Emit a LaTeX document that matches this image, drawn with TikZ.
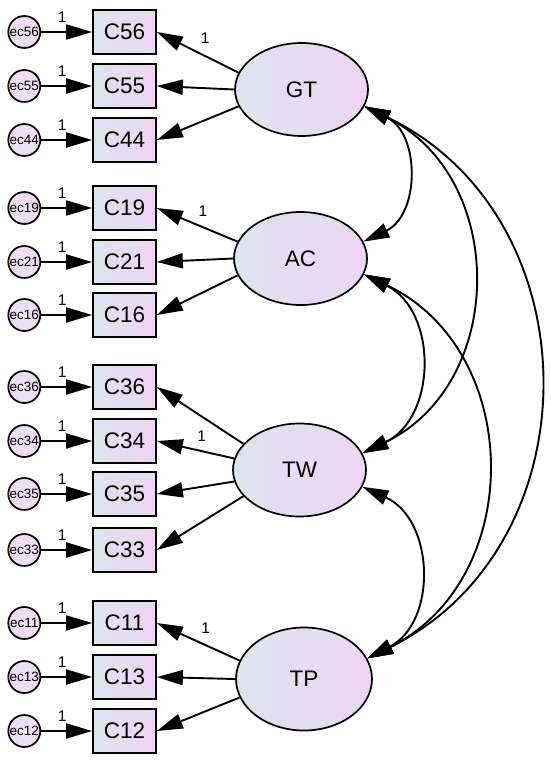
\documentclass[tikz,border=0pt]{standalone}
\usepackage{fontspec}
\setmainfont{Liberation Sans}
\usetikzlibrary{positioning,arrows.meta,shapes.geometric}

\definecolor{shadeL}{RGB}{222,228,238}
\definecolor{shadeR}{RGB}{237,213,244}
\definecolor{errfill}{RGB}{238,222,244}

\begin{document}
\begin{tikzpicture}[
    x=1pt, y=1pt,
    item/.style={
        draw,
        line width=1.7pt,
        left color=shadeL,
        right color=shadeR,
        minimum width=63pt,
        minimum height=44pt,
        inner sep=0pt,
        font=\fontsize{22.5}{26}\selectfont
    },
    latent/.style={
        ellipse,
        draw,
        line width=1.7pt,
        left color=shadeL,
        right color=shadeR,
        minimum width=133pt,
        minimum height=93pt,
        inner sep=0pt,
        font=\fontsize{22.5}{26}\selectfont
    },
    err/.style={
        circle,
        draw,
        line width=1.7pt,
        fill=errfill,
        minimum size=32pt,
        inner sep=0pt,
        font=\fontsize{13.5}{15}\selectfont
    },
    load/.style={-{Triangle[length=26pt,width=15pt]}, line width=1.9pt},
    cov/.style={{Triangle[length=26pt,width=15pt]}-{Triangle[length=26pt,width=15pt]}, line width=1.9pt, bend left=64, looseness=1.18},
    lbl/.style={inner sep=0pt, font=\fontsize{15.5}{17}\selectfont}
]
\useasboundingbox (0,0) rectangle (550,-767);

% latent factors
\node[latent] (GT) at (301.5,-89.5) {GT};
\node[latent] (AC) at (300.5,-258.5) {AC};
\node[latent] (TW) at (299.5,-470) {TW};
\node[latent, minimum width=136pt, minimum height=103pt] (TP) at (304,-679) {TP};

% observed items
\node[item] (C56) at (124.5,-32) {C56};
\node[item] (C55) at (124.5,-86) {C55};
\node[item] (C44) at (124.5,-140) {C44};
\node[item] (C19) at (124.5,-208) {C19};
\node[item] (C21) at (124.5,-262) {C21};
\node[item] (C16) at (124.5,-315) {C16};
\node[item] (C36) at (124.5,-387) {C36};
\node[item] (C34) at (124.5,-441) {C34};
\node[item] (C35) at (124.5,-494) {C35};
\node[item] (C33) at (124.5,-550) {C33};
\node[item] (C11) at (124.5,-623) {C11};
\node[item] (C13) at (124.5,-677) {C13};
\node[item] (C12) at (124.5,-731) {C12};

% error terms
\node[err, left=51pt of C56] (ec56) {ec56};
\node[err, left=51pt of C55] (ec55) {ec55};
\node[err, left=51pt of C44] (ec44) {ec44};
\node[err, left=51pt of C19] (ec19) {ec19};
\node[err, left=51pt of C21] (ec21) {ec21};
\node[err, left=51pt of C16] (ec16) {ec16};
\node[err, left=51pt of C36] (ec36) {ec36};
\node[err, left=51pt of C34] (ec34) {ec34};
\node[err, left=51pt of C35] (ec35) {ec35};
\node[err, left=51pt of C33] (ec33) {ec33};
\node[err, left=51pt of C11] (ec11) {ec11};
\node[err, left=51pt of C13] (ec13) {ec13};
\node[err, left=51pt of C12] (ec12) {ec12};

% error paths
\draw[load] (ec56) -- node[lbl, pos=0.41, above=9pt] {1} (C56);
\draw[load] (ec55) -- node[lbl, pos=0.41, above=9pt] {1} (C55);
\draw[load] (ec44) -- node[lbl, pos=0.41, above=9pt] {1} (C44);
\draw[load] (ec19) -- node[lbl, pos=0.41, above=9pt] {1} (C19);
\draw[load] (ec21) -- node[lbl, pos=0.41, above=9pt] {1} (C21);
\draw[load] (ec16) -- node[lbl, pos=0.41, above=9pt] {1} (C16);
\draw[load] (ec36) -- node[lbl, pos=0.41, above=9pt] {1} (C36);
\draw[load] (ec34) -- node[lbl, pos=0.41, above=9pt] {1} (C34);
\draw[load] (ec35) -- node[lbl, pos=0.41, above=9pt] {1} (C35);
\draw[load] (ec33) -- node[lbl, pos=0.41, above=9pt] {1} (C33);
\draw[load] (ec11) -- node[lbl, pos=0.41, above=9pt] {1} (C11);
\draw[load] (ec13) -- node[lbl, pos=0.41, above=9pt] {1} (C13);
\draw[load] (ec12) -- node[lbl, pos=0.41, above=9pt] {1} (C12);

% loadings
\draw[load] (GT.165) -- node[lbl, pos=0.41, above=12pt] {1} (C56.east);
\draw[load] (GT.180) -- (C55.east);
\draw[load] (GT.195) -- (C44.east);
\draw[load] (AC.165) -- node[lbl, pos=0.43, above=10pt] {1} (C19.east);
\draw[load] (AC.180) -- (C21.east);
\draw[load] (AC.195) -- (C16.east);
\draw[load] (TW.155) -- (C36.east);
\draw[load] (TW.170) -- node[lbl, pos=0.42, above=9pt] {1} (C34.east);
\draw[load] (TW.190) -- (C35.east);
\draw[load] (TW.205) -- (C33.east);
\draw[load] (TP.164) -- node[lbl, pos=0.41, above=11pt] {1} (C11.east);
\draw[load] (TP.180) -- (C13.east);
\draw[load] (TP.196) -- (C12.east);

% covariances
\draw[cov] (GT.-15) to (AC.15);
\draw[cov] (GT.-15) to (TW.15);
\draw[cov] (GT.-15) to (TP.18);
\draw[cov] (AC.-14) to (TW.15);
\draw[cov] (AC.-14) to (TP.18);
\draw[cov] (TW.-15) to (TP.18);

\end{tikzpicture}
\end{document}
